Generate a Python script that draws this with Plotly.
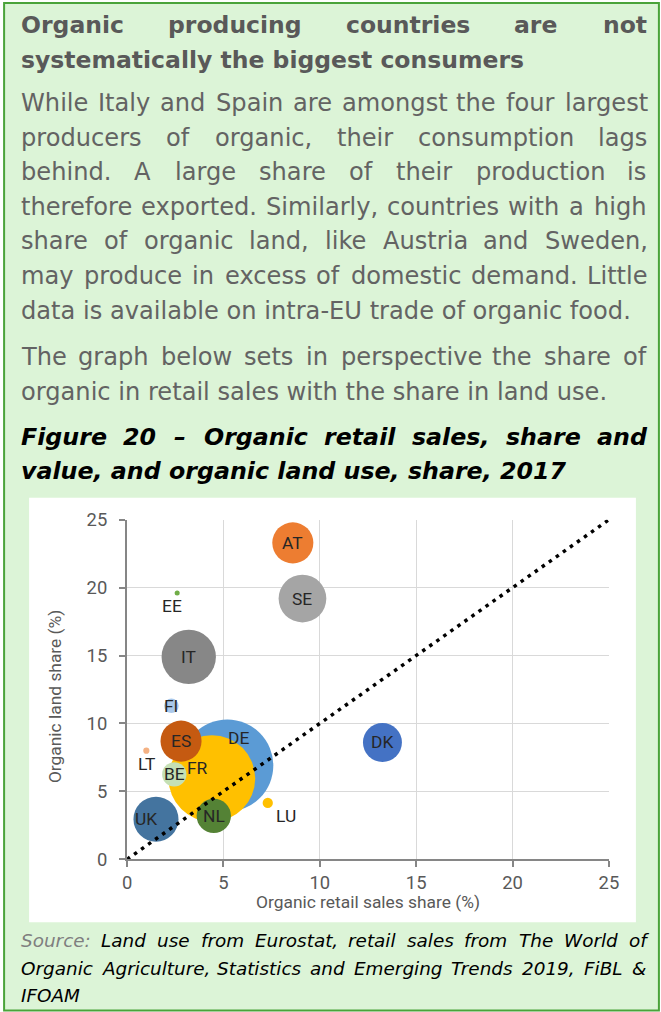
import glob
import plotly.graph_objects as go

# target picture size and the page canvas used to produce it
W, H = 661, 1012
CAL_S, CAL_OX, CAL_OY = 0.978, 3.9, 11.0      # photo = CAL_S * page + offset
FW, FH = 673, 1023                             # figure (page) size
K = 1 / CAL_S

# ---------------- data ----------------
countries = ["DE", "FR", "IT", "SE", "UK", "AT", "ES", "DK", "NL", "BE", "FI", "LU", "LT", "EE"]
retail_share = [5.2, 4.4, 3.2, 9.1, 1.5, 8.6, 2.8, 13.25, 4.5, 2.45, 2.3, 7.3, 1.0, 2.6]
land_share = [6.9, 5.95, 14.9, 19.2, 2.95, 23.3, 8.7, 8.6, 3.2, 6.25, 11.3, 4.15, 8.0, 19.6]
retail_value = [10040, 8900, 3500, 2700, 2400, 2000, 2000, 1800, 1400, 700, 250, 125, 45, 30]
parity_x = [0, 25]
parity_y = [0, 25]
tick_vals = [0, 5, 10, 15, 20, 25]
tick_text = ["0", "5", "10", "15", "20", "25"]
x_title = "Organic retail sales share (%)"
y_title = "Organic land share (%)"

# ---------------- styles ----------------
COLORS = {
    "DE": "#5B9BD5", "FR": "#FFC000", "IT": "#878787", "SE": "#A5A5A5",
    "UK": "#44749F", "AT": "#ED7D31", "ES": "#C55A11", "DK": "#4472C4",
    "NL": "#548235", "BE": "#C5E0B4", "FI": "#A9C8EB", "LU": "#FFC000",
    "LT": "#F4B183", "EE": "#70AD47",
}
LABEL_SHIFT = {"EE": (-5, -13), "LT": (0, -13), "LU": (18, -13),
               "DE": (11, 27), "FR": (-14, 10), "UK": (-10, 0)}
MAX_BUBBLE_DIAM = 90
BG_GREEN = "#DCF4D7"
BORDER_GREEN = "#4AA33A"
CHART_FONT = "Roboto, Liberation Sans, sans-serif"
TEXT_FONT = "DejaVu Sans, Verdana, sans-serif"

# ---------------- text block ----------------
GREY = "#595959"
TITLE_SIZE, BODY_SIZE, CAPTION_SIZE, SOURCE_SIZE = 23, 23.6, 23.2, 18
TITLE_LINES = [
    ("Organic producing countries are not", 25, True),
    ("systematically the biggest consumers", 60, False),
]
BODY_LINES = [
    ("While Italy and Spain are amongst the four largest", 103, True),
    ("producers of organic, their consumption lags", 138, True),
    ("behind. A large share of their production is", 172, True),
    ("therefore exported. Similarly, countries with a high", 207, True),
    ("share of organic land, like Austria and Sweden,", 241, True),
    ("may produce in excess of domestic demand. Little", 276, True),
    ("data is available on intra-EU trade of organic food.", 311, False),
    ("The graph below sets in perspective the share of", 356, True),
    ("organic in retail sales with the share in land use.", 391, False),
]
CAPTION_LINES = [
    ("Figure 20 \u2013 Organic retail sales, share and", 436, True),
    ("value, and organic land use, share, 2017", 470, False),
]
SOURCE_LINES = [
    ("Source: Land use from Eurostat, retail sales from The World of", 939, True),
    ("Organic Agriculture, Statistics and Emerging Trends 2019, FiBL &", 967, True),
    ("IFOAM", 994, False),
]
TEXT_LEFT, TEXT_RIGHT = 20, 645

_font_cache = {}


def _font_file(bold, italic):
    name = {(False, False): "DejaVuSans.ttf", (True, False): "DejaVuSans-Bold.ttf",
            (False, True): "DejaVuSans-Oblique.ttf", (True, True): "DejaVuSans-BoldOblique.ttf"}[(bold, italic)]
    hits = glob.glob("/usr/share/fonts/**/" + name, recursive=True)
    return hits[0] if hits else None


def measure(s, size, bold, italic):
    """width in target pixels of string s at target font size"""
    key = (bold, italic)
    try:
        from PIL import ImageFont
        if key not in _font_cache:
            _font_cache[key] = ImageFont.truetype(_font_file(bold, italic), 100)
        return _font_cache[key].getlength(s) * size / 100.0
    except Exception:
        w = 0.0
        for ch in s:
            if ch == " ":
                w += 0.318
            elif ch in "il.,:;'|!j":
                w += 0.28
            elif ch in "ftrI()-":
                w += 0.40
            elif ch in "mwMW%&":
                w += 0.95
            elif ch.isupper():
                w += 0.70
            else:
                w += 0.61
        if bold:
            w *= 1.1
        return w * size


# target-pixel -> paper coordinate helpers
def px(x):
    return ((x - CAL_OX) / CAL_S) / FW


def py(y):
    return 1 - ((y - CAL_OY) / CAL_S) / FH


annotations = []


def add_word(text, x, y, size, bold, italic, color):
    annotations.append(dict(
        text=text, x=px(x), y=py(y), xref="paper", yref="paper",
        xanchor="left", yanchor="middle", showarrow=False,
        borderpad=0, borderwidth=0,
        font=dict(family=TEXT_FONT, size=size * K, color=color,
                  weight="bold" if bold else "normal",
                  style="italic" if italic else "normal"),
    ))


def add_line(text, y, justify, size, bold, italic, color, first_color=None, n_first=0):
    words = text.split(" ")
    colors = [first_color if (first_color and i < n_first) else color for i in range(len(words))]
    if justify and len(words) > 1:
        widths = [measure(w, size, bold, italic) for w in words]
        gap = (TEXT_RIGHT - TEXT_LEFT - sum(widths)) / (len(words) - 1)
        x = TEXT_LEFT
        for w, wd, c in zip(words, widths, colors):
            add_word(w, x, y, size, bold, italic, c)
            x += wd + gap
    else:
        add_word(text, TEXT_LEFT, y, size, bold, italic, color)


for t, y, j in TITLE_LINES:
    add_line(t, y, j, TITLE_SIZE, True, False, GREY)
for t, y, j in BODY_LINES:
    add_line(t, y, j, BODY_SIZE, False, False, "#636363")
for t, y, j in CAPTION_LINES:
    add_line(t, y, j, CAPTION_SIZE, True, True, "#000000")
for i, (t, y, j) in enumerate(SOURCE_LINES):
    if i == 0:
        add_line(t, y, j, SOURCE_SIZE, False, True, "#000000", first_color="#7F7F7F", n_first=1)
    else:
        add_line(t, y, j, SOURCE_SIZE, False, True, "#000000")

# bubble labels
for c, xv, yv in zip(countries, retail_share, land_share):
    dx, dy = LABEL_SHIFT.get(c, (0, 0))
    annotations.append(dict(
        text=c, x=xv, y=yv, xref="x", yref="y", showarrow=False,
        xshift=dx * K, yshift=dy * K, xanchor="center", yanchor="middle",
        font=dict(family=CHART_FONT, size=17 * K, color="#262626"),
    ))

# axis titles
annotations.append(dict(text=x_title, x=px(367), y=py(901), xref="paper", yref="paper",
                        showarrow=False, xanchor="center", yanchor="middle",
                        font=dict(family=CHART_FONT, size=17 * K, color=GREY)))
annotations.append(dict(text=y_title, x=px(54), y=py(696), xref="paper", yref="paper",
                        showarrow=False, xanchor="center", yanchor="middle", textangle=-90,
                        font=dict(family=CHART_FONT, size=17 * K, color=GREY)))

# ---------------- figure ----------------
fig = go.Figure()
fig.add_trace(go.Scatter(
    x=retail_share, y=land_share, mode="markers", hoverinfo="skip",
    marker=dict(size=retail_value, sizemode="area",
                sizeref=2 * max(retail_value) / (MAX_BUBBLE_DIAM * K) ** 2,
                color=[COLORS[c] for c in countries], opacity=1,
                line=dict(width=0)),
))
fig.add_trace(go.Scatter(
    x=parity_x, y=parity_y, mode="lines", hoverinfo="skip",
    line=dict(color="#000000", width=3.4 * K, dash="%.1fpx,%.1fpx" % (3.4 * K, 5 * K)),
))

axis_common = dict(
    range=[0, 25], tickvals=tick_vals, ticktext=tick_text,
    showgrid=True, gridcolor="#D9D9D9", gridwidth=1, zeroline=False,
    showline=True, linecolor="#868686", linewidth=2,
    ticks="outside", ticklen=6 * K, tickwidth=2, tickcolor="#868686",
    tickfont=dict(family=CHART_FONT, size=18 * K, color=GREY),
    fixedrange=True,
)
fig.update_layout(
    width=FW, height=FH, autosize=False,
    margin=dict(l=0, r=0, t=0, b=0),
    paper_bgcolor="white", plot_bgcolor="white",
    showlegend=False,
    xaxis=dict(domain=[px(126), px(608)], ticklabelstandoff=0, **axis_common),
    yaxis=dict(domain=[py(858), py(519)], ticklabelstandoff=8, **axis_common),
    annotations=annotations,
    shapes=[
        dict(type="rect", xref="paper", yref="paper", x0=px(3), x1=px(658), y0=py(1009), y1=py(3),
             fillcolor=BG_GREEN, line=dict(color=BORDER_GREEN, width=2), layer="below"),
        dict(type="rect", xref="paper", yref="paper", x0=px(28), x1=px(635), y0=py(921), y1=py(497),
             fillcolor="white", line=dict(width=0), layer="below"),
    ],
)

PAGE_FIX = (
    "document.documentElement.style.margin='0';"
    "document.body.style.margin='0';"
    "document.documentElement.style.overflow='hidden';"
    "document.body.style.overflow='hidden';"
    "var gd=document.getElementById('{plot_id}');"
    "gd.style.position='absolute';gd.style.left='0px';gd.style.top='0px';"
)

fig.write_html("out.html", post_script=PAGE_FIX, config={"displayModeBar": False, "staticPlot": True})
